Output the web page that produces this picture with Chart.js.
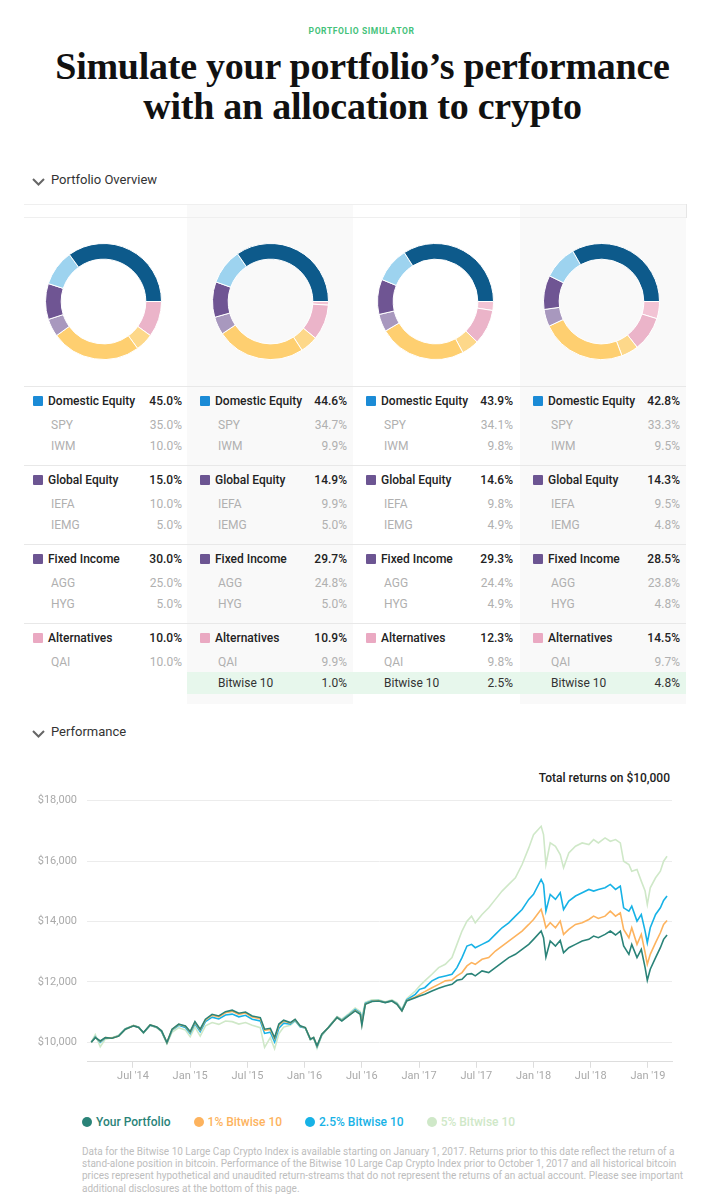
<!DOCTYPE html>
<html>
<head>
<meta charset="utf-8">
<script src="https://cdn.jsdelivr.net/npm/chart.js@4.4.1/dist/chart.umd.min.js"></script>
<style>
body { margin: 0; background: #fff; font-family: Roboto, "Liberation Sans", sans-serif; color: #222; }
#page { position: relative; width: 709px; height: 1200px; overflow: hidden; }
.abs { position: absolute; }
.kicker { left: 7px; top: 26px; width: 709px; text-align: center; font-size: 8.5px; font-weight: 700; letter-spacing: .6px; color: #44c27a; }
h1 { position: absolute; left: 8px; top: 46px; width: 709px; margin: 0; text-align: center;
     font-family: "Liberation Serif", serif; font-weight: 700; font-size: 38px; line-height: 40px; color: #111; letter-spacing: -0.25px; }
.sec { font-size: 13px; color: #333; left: 32px; height: 16px; line-height: 16px; }
.sec svg { vertical-align: -2px; margin-right: 6px; }
.colbg { background: #f9f9f9; top: 204px; height: 500px; }
.hline { left: 24px; width: 662px; height: 1px; background: #e8e8e8; }
.row { height: 20px; line-height: 20px; font-size: 12px; white-space: nowrap; }
.row .v { position: absolute; right: 0; top: 0; }
.grp { color: #222; font-weight: 500; }
.sub { color: #b0b0b0; height: 22px; line-height: 22px; }
.bw { background: #e7f7ec; color: #333; }
.sq { display: inline-block; width: 10px; height: 10px; border-radius: 1px; vertical-align: -1px; margin-right: 5px; }
.legend { left: 82px; top: 1115px; font-size: 12px; font-weight: 500; white-space: nowrap; display: flex; gap: 23px; }
.legend i { display: inline-block; width: 10px; height: 10px; border-radius: 50%; margin-right: 4px; vertical-align: -1px; }
.foot { left: 82px; top: 1146px; font-size: 10px; line-height: 12.2px; color: #bdbdbd; white-space: nowrap; }
</style>
</head>
<body>
<div id="page">
  <div class="abs kicker">PORTFOLIO SIMULATOR</div>
  <h1>Simulate your portfolio’s performance<br>with an allocation to crypto</h1>

  <div class="abs sec" style="top:172px"><svg width="13" height="8" viewBox="0 0 13 8"><path d="M1 1 L6.5 6.5 L12 1" fill="none" stroke="#666" stroke-width="2"/></svg>Portfolio Overview</div>

  <div class="abs colbg" style="left:187px;width:166px"></div>
  <div class="abs colbg" style="left:520px;width:166px"></div>
  <div class="abs hline" style="top:204px;background:#efefef"></div>
  <div class="abs hline" style="top:217px;background:#efefef"></div>
  <div class="abs" style="left:686px;top:204px;width:1px;height:14px;background:#e6e6e6"></div>

  <canvas id="d0" class="abs" width="117" height="117" style="left:45px;top:243px"></canvas>
  <canvas id="d1" class="abs" width="117" height="117" style="left:212px;top:243px"></canvas>
  <canvas id="d2" class="abs" width="117" height="117" style="left:377px;top:243px"></canvas>
  <canvas id="d3" class="abs" width="117" height="117" style="left:543px;top:243px"></canvas>

  <div id="table"></div>

  <div class="abs sec" style="top:724px"><svg width="13" height="8" viewBox="0 0 13 8"><path d="M1 1 L6.5 6.5 L12 1" fill="none" stroke="#666" stroke-width="2"/></svg>Performance</div>

  <div class="abs" style="right:39px;top:771px;font-size:12px;font-weight:500;color:#222">Total returns on $10,000</div>
  <canvas id="perf" class="abs" width="662" height="310" style="left:24px;top:775px"></canvas>

  <div class="abs legend">
    <span style="color:#2a8378"><i style="background:#2a8378"></i>Your Portfolio</span>
    <span style="color:#fdb35e"><i style="background:#fdb35e"></i>1% Bitwise 10</span>
    <span style="color:#17b2e6"><i style="background:#17b2e6"></i>2.5% Bitwise 10</span>
    <span style="color:#cfe8c8"><i style="background:#cfe8c8"></i>5% Bitwise 10</span>
  </div>
  <div class="abs foot">Data for the Bitwise 10 Large Cap Crypto Index is available starting on January 1, 2017. Returns prior to this date reflect the return of a<br>stand-alone position in bitcoin. Performance of the Bitwise 10 Large Cap Crypto Index prior to October 1, 2017 and all historical bitcoin<br>prices represent hypothetical and unaudited return-streams that do not represent the returns of an actual account. Please see important<br>additional disclosures at the bottom of this page.</div>
</div>

<script>
// allocations per portfolio column (percent)
const domesticEquity = [45.0, 44.6, 43.9, 42.8];
const spy = [35.0, 34.7, 34.1, 33.3];
const iwm = [10.0, 9.9, 9.8, 9.5];
const globalEquity = [15.0, 14.9, 14.6, 14.3];
const iefa = [10.0, 9.9, 9.8, 9.5];
const iemg = [5.0, 5.0, 4.9, 4.8];
const fixedIncome = [30.0, 29.7, 29.3, 28.5];
const agg = [25.0, 24.8, 24.4, 23.8];
const hyg = [5.0, 5.0, 4.9, 4.8];
const alternatives = [10.0, 10.9, 12.3, 14.5];
const qai = [10.0, 9.9, 9.8, 9.7];
const bitwise = [0, 1.0, 2.5, 4.8];

// performance, x = months since Jan 2014
const months = [1.63, 2.05, 2.57, 3.1, 3.8, 4.5, 5.2, 6.07, 6.6, 7.1, 7.8, 8.5, 9.0, 9.56,
  10.1, 10.8, 11.5, 12.0, 12.5, 13.05, 13.6, 14.3, 15.0, 15.7, 16.4, 17.1, 17.8, 18.5, 19.35, 19.8,
  20.4, 20.85, 21.3, 21.8, 22.5, 23.0, 23.54, 24.07, 24.6, 24.94, 25.3, 25.8, 26.5, 27.4, 27.9,
  28.6, 29.3, 29.83, 30.0, 30.36, 31.06, 31.76, 32.45, 33.15, 33.68, 34.2, 34.7, 35.6, 36.05,
  36.6, 37.35, 38.05, 38.75, 39.45, 39.97, 40.5, 41.02, 41.5, 41.89, 42.6, 43.3, 44.0, 44.7,
  45.4, 46.1, 46.8, 47.5, 48.0, 48.8, 49.05, 49.3, 49.75, 50.3, 50.8, 51.15, 51.7, 52.4, 53.1,
  53.8, 54.3, 54.8, 55.5, 56.05, 56.6, 57.1, 57.45, 58.0, 58.3, 58.85, 59.3, 59.7, 59.93, 60.24,
  60.8, 61.3, 61.64, 62.0];
const yourPortfolio = [10000, 10150, 10040, 10150, 10130, 10200, 10430, 10540, 10485, 10320, 10570, 10500, 10375, 9990,
  10430, 10600, 10540, 10350, 10680, 10430, 10760, 10925, 10870, 11010, 11060, 10960, 11000, 10870, 10815, 10430,
  10460, 10150, 10600, 10730, 10650, 10760, 10540, 10485, 10100, 10150, 9880, 10265, 10485, 10815, 10705,
  10870, 11035, 10925, 10560, 11255, 11345, 11365, 11310, 11365, 11255, 11035, 11365, 11475, 11530,
  11585, 11695, 11785, 11860, 11915, 12050, 12080, 12250, 12270, 12195, 12360, 12305, 12470, 12635,
  12800, 12910, 13075, 13240, 13405, 13680, 13460, 12820, 13350, 13185, 13370, 12965, 13130, 13240, 13350,
  13405, 13515, 13460, 13570, 13680, 13550, 13680, 13185, 12910, 13240, 12800, 13075, 12470, 12050, 12415,
  12800, 13130, 13405, 13550];
const bitwise1 = [10000, 10160, 10020, 10150, 10135, 10205, 10430, 10545, 10490, 10315, 10570, 10495, 10370, 9985,
  10420, 10590, 10525, 10330, 10660, 10405, 10735, 10895, 10840, 10975, 11020, 10920, 10965, 10835, 10775, 10390,
  10420, 10110, 10560, 10700, 10630, 10745, 10530, 10480, 10100, 10150, 9870, 10255, 10485, 10820, 10715,
  10880, 11050, 10940, 10600, 11265, 11355, 11370, 11315, 11370, 11265, 11045, 11375, 11500, 11585,
  11675, 11805, 11915, 12030, 12060, 12195, 12305, 12525, 12635, 12580, 12745, 12800, 13020, 13185,
  13350, 13515, 13680, 13900, 14065, 14400, 14120, 13790, 13955, 13790, 14010, 13570, 13735, 13900, 13955,
  14065, 14175, 14100, 14175, 14340, 14175, 14285, 13735, 13460, 13790, 13240, 13570, 12965, 12580, 12910,
  13295, 13625, 13900, 14030];
const bitwise25 = [10000, 10180, 9990, 10140, 10140, 10210, 10440, 10550, 10495, 10310, 10565, 10490, 10360, 9975,
  10400, 10560, 10490, 10290, 10610, 10350, 10680, 10830, 10770, 10900, 10930, 10840, 10890, 10760, 10700, 10290,
  10330, 10010, 10460, 10630, 10600, 10720, 10510, 10470, 10090, 10150, 9850, 10240, 10490, 10830, 10730,
  10900, 11080, 10970, 10700, 11285, 11370, 11380, 11320, 11380, 11280, 11060, 11400, 11585, 11750,
  11805, 12030, 12140, 12195, 12250, 12470, 12800, 13185, 13240, 13130, 13240, 13350, 13570, 13790,
  13955, 14175, 14395, 14730, 14895, 15390, 15225, 14340, 14895, 14730, 14950, 14395, 14675, 14840, 14950,
  15060, 15005, 15060, 15115, 15225, 15060, 15170, 14450, 14340, 14505, 14010, 14230, 13680, 13295, 13790,
  14230, 14450, 14695, 14840];
const bitwise5 = [10000, 10250, 9850, 10100, 10150, 10230, 10450, 10560, 10500, 10300, 10560, 10480, 10340, 9950,
  10330, 10480, 10400, 10180, 10500, 10200, 10540, 10650, 10590, 10700, 10680, 10600, 10650, 10560, 10480, 9830,
  10150, 9780, 10280, 10500, 10560, 10700, 10500, 10480, 10070, 10150, 9800, 10220, 10500, 10850, 10760,
  10940, 11130, 11020, 10820, 11320, 11400, 11400, 11340, 11400, 11310, 11090, 11440, 11695, 11860,
  12030, 12250, 12470, 12580, 12800, 13240, 13680, 14010, 14175, 13955, 14230, 14450, 14730, 15005,
  15225, 15445, 15885, 16435, 16875, 17150, 16875, 15885, 16600, 16490, 16215, 15775, 16270, 16490, 16600,
  16545, 16710, 16600, 16765, 16655, 16710, 16600, 15995, 15885, 15665, 15720, 15335, 15005, 14560, 15115,
  15445, 15665, 15995, 16160];

const xTicks = [6, 12, 18, 24, 30, 36, 42, 48, 54, 60];
const xTickLabels = ["Jul '14", "Jan '15", "Jul '15", "Jan '16", "Jul '16", "Jan '17", "Jul '17", "Jan '18", "Jul '18", "Jan '19"];
const yTicks = [10000, 12000, 14000, 16000, 18000];

Chart.defaults.font.family = 'Roboto';

// table
const groups = [
  { name: 'Domestic Equity', color: '#1b8bd6', total: domesticEquity, items: [['SPY', spy], ['IWM', iwm]] },
  { name: 'Global Equity', color: '#6c5592', total: globalEquity, items: [['IEFA', iefa], ['IEMG', iemg]] },
  { name: 'Fixed Income', color: '#6c5592', total: fixedIncome, items: [['AGG', agg], ['HYG', hyg]] },
  { name: 'Alternatives', color: '#eaa9c2', total: alternatives, items: [['QAI', qai], ['Bitwise 10', bitwise]] }
];
const colLeft = [24, 187, 353, 520];
const colRight = [182, 347, 513, 680];
const padL = [9, 13, 13, 13];
let html = '';
groups.forEach(function(g, gi) {
  const top = 386 + gi * 79;
  html += '<div class="abs hline" style="top:' + top + 'px"></div>';
  for (let c = 0; c < 4; c++) {
    const x = colLeft[c] + padL[c];
    const w = colRight[c] - x;
    html += '<div class="abs row grp" style="left:' + x + 'px;top:' + (top + 5) + 'px;width:' + w + 'px">' +
      '<span class="sq" style="background:' + g.color + '"></span>' + g.name +
      '<span class="v">' + g.total[c].toFixed(1) + '%</span></div>';
    g.items.forEach(function(it, ii) {
      const val = it[1][c];
      if (it[0] === 'Bitwise 10') {
        if (!val) return;
        const cw = c === 3 ? 166 : colLeft[c + 1] - colLeft[c];
        html += '<div class="abs row sub bw" style="left:' + colLeft[c] + 'px;top:' + (top + 28 + ii * 21) + 'px;width:' + cw + 'px">' +
          '<span style="position:absolute;left:' + (padL[c] + 18) + 'px">' + it[0] + '</span>' +
          '<span style="position:absolute;right:' + (colLeft[c] + cw - colRight[c]) + 'px">' + val.toFixed(1) + '%</span></div>';
        return;
      }
      html += '<div class="abs row sub" style="left:' + (x + 18) + 'px;top:' + (top + 28 + ii * 21) + 'px;width:' + (w - 18) + 'px">' +
        it[0] + '<span class="v">' + val.toFixed(1) + '%</span></div>';
    });
  }
});
document.getElementById('table').innerHTML = html;

// donuts: clockwise from 3 o'clock
const donutColors = ['#f2c3d4', '#ebb4c9', '#fdd88a', '#fecf70', '#a898be', '#6f5593', '#9dd3ef', '#0d5a8b'];
for (let c = 0; c < 4; c++) {
  new Chart(document.getElementById('d' + c), {
    type: 'doughnut',
    data: {
      labels: ['Bitwise 10', 'QAI', 'HYG', 'AGG', 'IEMG', 'IEFA', 'IWM', 'SPY'],
      datasets: [{
        data: [bitwise[c], qai[c], hyg[c], agg[c], iemg[c], iefa[c], iwm[c], spy[c]],
        backgroundColor: donutColors,
        borderColor: '#ffffff',
        borderWidth: 1
      }]
    },
    options: {
      responsive: false, animation: false, events: [],
      cutout: '73%', rotation: 90,
      plugins: { legend: { display: false }, tooltip: { enabled: false } }
    }
  });
}

// performance chart
function pts(arr) { return months.map(function(m, i) { return { x: m, y: arr[i] }; }); }
new Chart(document.getElementById('perf'), {
  type: 'line',
  data: {
    datasets: [
      { label: 'Your Portfolio', data: pts(yourPortfolio), borderColor: '#2a8378' },
      { label: '1% Bitwise 10', data: pts(bitwise1), borderColor: '#fdb35e' },
      { label: '2.5% Bitwise 10', data: pts(bitwise25), borderColor: '#17b2e6' },
      { label: '5% Bitwise 10', data: pts(bitwise5), borderColor: '#cfe8c8' }
    ]
  },
  options: {
    responsive: false, animation: false, events: [],
    layout: { padding: { right: 14 } },
    elements: { point: { radius: 0 }, line: { borderWidth: 1.6, tension: 0, fill: false } },
    plugins: { legend: { display: false }, tooltip: { enabled: false } },
    scales: {
      x: {
        type: 'linear', min: 1.18, max: 62.52,
        afterBuildTicks: function(s) { s.ticks = xTicks.map(function(v) { return { value: v }; }); },
        ticks: {
          callback: function(v) { return xTickLabels[xTicks.indexOf(v)]; },
          color: '#aaaaaa', font: { size: 11 }, padding: 2, maxRotation: 0, autoSkip: false
        },
        grid: { drawOnChartArea: false, drawTicks: true, tickLength: 6, color: '#dddddd' },
        border: { display: true, color: '#dddddd' }
      },
      y: {
        min: 9350, max: 18300,
        afterBuildTicks: function(s) { s.ticks = yTicks.map(function(v) { return { value: v }; }); },
        afterFit: function(s) { s.width = 63; },
        ticks: {
          callback: function(v) { return '$' + String(v).replace(/\B(?=(\d{3})+(?!\d))/g, ','); },
          color: '#aaaaaa', font: { size: 11 }, padding: 10
        },
        grid: { color: '#ececec', drawTicks: false },
        border: { display: false }
      }
    }
  }
});
</script>
</body>
</html>
